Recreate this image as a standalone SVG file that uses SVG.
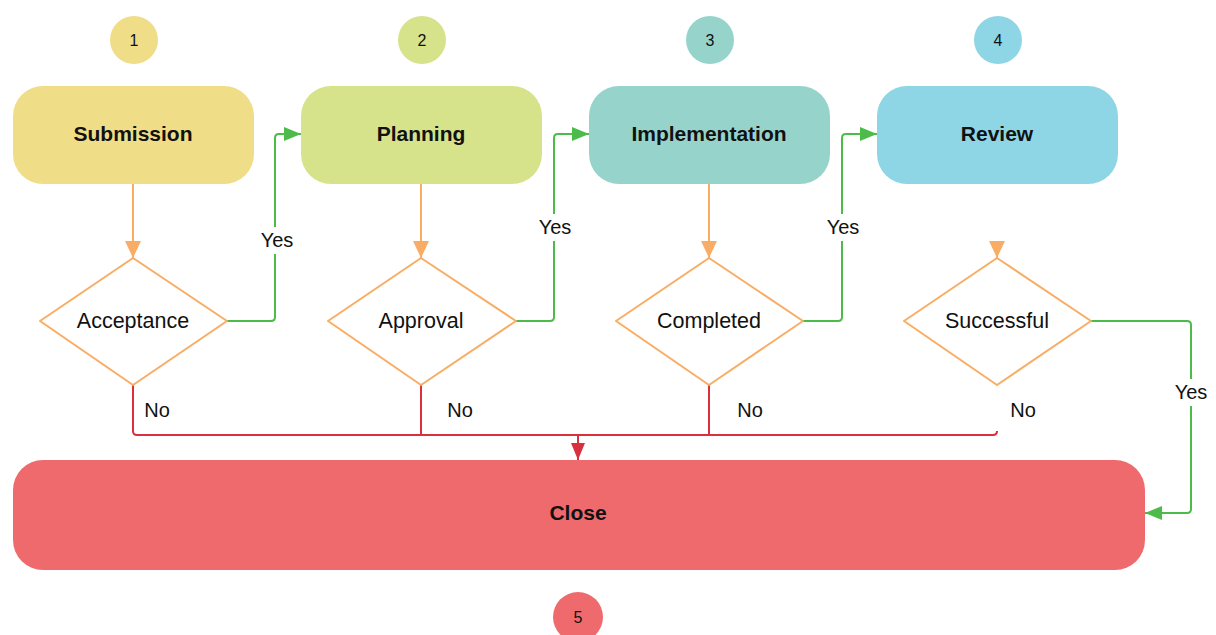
<svg xmlns="http://www.w3.org/2000/svg" width="1216" height="635" viewBox="0 0 1216 635">
<defs>
<style>
text{font-family:"Liberation Sans",Arial,sans-serif;fill:#111;text-anchor:middle;dominant-baseline:central}
.t{font-size:21px;font-weight:bold}
.l{font-size:20px}
.dl{font-size:21.5px}
.n{font-size:16px}
.o{fill:none;stroke:#F9AD64;stroke-width:2}
.g{fill:none;stroke:#4CBB4A;stroke-width:2}
.r{fill:none;stroke:#D8303D;stroke-width:2}
.d{fill:#fff;stroke:#F9AD64;stroke-width:2}
.bg{fill:#fff}
</style>
<marker id="ao" markerUnits="userSpaceOnUse" markerWidth="20" markerHeight="20" viewBox="0 -10 20 20" refX="17" refY="0" orient="auto"><path d="M0,-8 L17,0 L0,8 z" fill="#F9AD64"/></marker>
<marker id="ag" markerUnits="userSpaceOnUse" markerWidth="20" markerHeight="20" viewBox="0 -10 20 20" refX="17" refY="0" orient="auto"><path d="M0,-7 L17,0 L0,7 z" fill="#4CBB4A"/></marker>
<marker id="ar" markerUnits="userSpaceOnUse" markerWidth="20" markerHeight="20" viewBox="0 -10 20 20" refX="17" refY="0" orient="auto"><path d="M0,-7 L17,0 L0,7 z" fill="#D8303D"/></marker>
</defs>
<rect width="1216" height="635" fill="#fff"/>

<g id="connectors">
<path class="o" d="M133,184 V258" marker-end="url(#ao)"/>
<path class="o" d="M421,184 V258" marker-end="url(#ao)"/>
<path class="o" d="M709,184 V258" marker-end="url(#ao)"/>
<path class="o" d="M997,241 V258" marker-end="url(#ao)"/>

<path class="g" d="M227,321 H271 Q275,321 275,317 V138 Q275,134 279,134 H301" marker-end="url(#ag)"/>
<path class="g" d="M516,321 H550 Q554,321 554,317 V138 Q554,134 558,134 H589" marker-end="url(#ag)"/>
<path class="g" d="M803,321 H838 Q842,321 842,317 V138 Q842,134 846,134 H877" marker-end="url(#ag)"/>
<path class="g" d="M1091,321 H1187 Q1191,321 1191,325 V509 Q1191,513 1187,513 H1145" marker-end="url(#ag)"/>

<path class="r" d="M133,385 V431 Q133,435 137,435 H993 Q997,435 997,431"/>
<path class="r" d="M421,385 V435"/>
<path class="r" d="M709,385 V435"/>
<path class="r" d="M578,435 V460" marker-end="url(#ar)"/>

<rect class="bg" x="260" y="227" width="33" height="27"/>
<text class="l" x="277" y="240">Yes</text>
<rect class="bg" x="539" y="214" width="33" height="27"/>
<text class="l" x="555" y="227">Yes</text>
<rect class="bg" x="827" y="214" width="33" height="27"/>
<text class="l" x="843" y="227">Yes</text>
<rect class="bg" x="1175" y="379" width="33" height="27"/>
<text class="l" x="1191" y="392">Yes</text>

<text class="l" x="157" y="410">No</text>
<text class="l" x="460" y="410">No</text>
<text class="l" x="750" y="410">No</text>
<text class="l" x="1023" y="410">No</text>
</g>

<g id="step1">
<circle cx="134" cy="40" r="24" fill="#F0DD88"/>
<text class="n" x="134" y="40">1</text>
</g>
<g id="step2">
<circle cx="422" cy="40" r="24" fill="#D6E38B"/>
<text class="n" x="422" y="40">2</text>
</g>
<g id="step3">
<circle cx="710" cy="40" r="24" fill="#96D4CB"/>
<text class="n" x="710" y="40">3</text>
</g>
<g id="step4">
<circle cx="998" cy="40" r="24" fill="#8ED5E6"/>
<text class="n" x="998" y="40">4</text>
</g>
<g id="step5">
<circle cx="578" cy="617" r="25" fill="#EF6A6C"/>
<text class="n" x="578" y="617">5</text>
</g>

<g id="submission">
<rect x="13" y="86" width="241" height="98" rx="30" fill="#F0DD88"/>
<text class="t" x="133" y="133">Submission</text>
</g>
<g id="planning">
<rect x="301" y="86" width="241" height="98" rx="30" fill="#D6E38B"/>
<text class="t" x="421" y="133">Planning</text>
</g>
<g id="implementation">
<rect x="589" y="86" width="241" height="98" rx="30" fill="#96D4CB"/>
<text class="t" x="709" y="133">Implementation</text>
</g>
<g id="review">
<rect x="877" y="86" width="241" height="98" rx="30" fill="#8ED5E6"/>
<text class="t" x="997" y="133">Review</text>
</g>

<g id="acceptance">
<path class="d" d="M133,258 L227,321 L133,385 L40,321 z" stroke-linejoin="round"/>
<text class="dl" x="133" y="321">Acceptance</text>
</g>
<g id="approval">
<path class="d" d="M421,258 L516,321 L421,385 L328,321 z" stroke-linejoin="round"/>
<text class="dl" x="421" y="321">Approval</text>
</g>
<g id="completed">
<path class="d" d="M709,258 L803,321 L709,385 L616,321 z" stroke-linejoin="round"/>
<text class="dl" x="709" y="321">Completed</text>
</g>
<g id="successful">
<path class="d" d="M997,258 L1091,321 L997,385 L904,321 z" stroke-linejoin="round"/>
<text class="dl" x="997" y="321">Successful</text>
</g>

<g id="close">
<rect x="13" y="460" width="1132" height="110" rx="30" fill="#EF6A6C"/>
<text class="t" x="578" y="512">Close</text>
</g>
</svg>
